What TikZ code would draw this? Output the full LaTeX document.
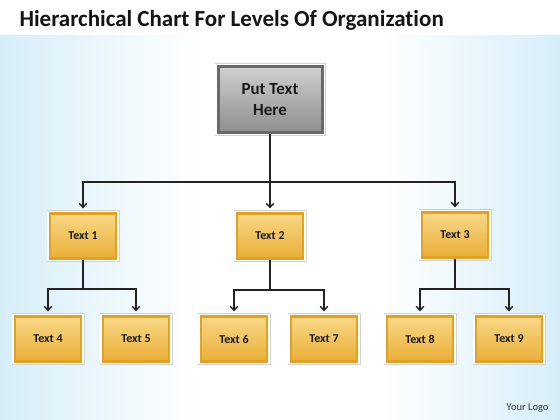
\documentclass[tikz,border=0pt]{standalone}
\usepackage{fontspec}
\setmainfont[Ligatures=NoCommon]{Carlito}
\usetikzlibrary{arrows.meta,calc}
\definecolor{bgblue}{HTML}{D6EEF9}
\definecolor{orgtop}{HTML}{F8D886}
\definecolor{orgbot}{HTML}{EAAE38}
\definecolor{orgline}{HTML}{DFA224}
\definecolor{graytop}{HTML}{CFCFCF}
\definecolor{graybot}{HTML}{8E8E8E}
\definecolor{grayline}{HTML}{6A6A6A}
\definecolor{conn}{HTML}{222222}
\tikzset{
  x=1pt, y=-1pt,
  framed/.style={preaction={draw=black!18, line width=7pt},
                 preaction={draw=white, line width=5.5pt}},
  orgbox/.style={framed, shading=axis, top color=orgtop, bottom color=orgbot,
                 draw=orgline, line width=2.3pt, minimum width=66pt, minimum height=45pt,
                 inner sep=0pt, font=\bfseries\fontsize{12}{14}\selectfont, text=black!90},
  headbox/.style={framed, shading=axis, top color=graytop, bottom color=graybot,
                 draw=grayline, line width=3pt, minimum width=104pt, minimum height=66pt,
                 inner sep=0pt, align=center, font=\bfseries\fontsize{17}{21}\selectfont, text=black!90},
  conline/.style={draw=conn, line width=1.4pt},
  arr/.style={conline, -{Straight Barb[length=4pt,width=7.5pt,line width=1.4pt]}, shorten >=4pt}
}
\begin{document}
\begin{tikzpicture}
\useasboundingbox (0,0) rectangle (560,420);
\fill[white] (0,0) rectangle (560,420);
\shade[left color=bgblue, right color=white] (0,36) rectangle (200,420);
\shade[left color=white, right color=bgblue] (380,36) rectangle (560,420);
\node[anchor=west, font=\bfseries\fontsize{23}{26}\selectfont, text=black!92] (title) at (16,20) {Hierarchical Chart For Levels Of Organization};
\node[anchor=east, font=\fontsize{10.5}{12}\selectfont, text=black!80] (logo) at (552,408) {Your Logo};

\node[headbox] (top) at (270,99.5) {Put Text\\Here};

\node[orgbox] (t1) at (83,236) {Text 1};
\node[orgbox] (t2) at (270,236) {Text 2};
\node[orgbox] (t3) at (455,235) {Text 3};

\node[orgbox] (t4) at (48,339) {Text 4};
\node[orgbox] (t5) at (136,339) {Text 5};
\node[orgbox] (t6) at (234,339) {Text 6};
\node[orgbox] (t7) at (324,339) {Text 7};
\node[orgbox] (t8) at (420,339) {Text 8};
\node[orgbox] (t9) at (509,339) {Text 9};

\coordinate (j0) at (top.south |- 0,182);
\coordinate (j1) at (t1.south |- 0,289);
\coordinate (j2) at (t2.south |- 0,290);
\coordinate (j3) at (t3.south |- 0,289);

\draw[conline] (top.south) -- (j0);
\draw[arr] (j0) -| (t1.north);
\draw[arr] (j0) -- (t2.north);
\draw[arr] (j0) -| (t3.north);

\draw[conline] (t1.south) -- (j1);
\draw[arr] (j1) -| (t4.north);
\draw[arr] (j1) -| (t5.north);
\draw[conline] (t2.south) -- (j2);
\draw[arr] (j2) -| (t6.north);
\draw[arr] (j2) -| (t7.north);
\draw[conline] (t3.south) -- (j3);
\draw[arr] (j3) -| (t8.north);
\draw[arr] (j3) -| (t9.north);
\end{tikzpicture}
\end{document}
